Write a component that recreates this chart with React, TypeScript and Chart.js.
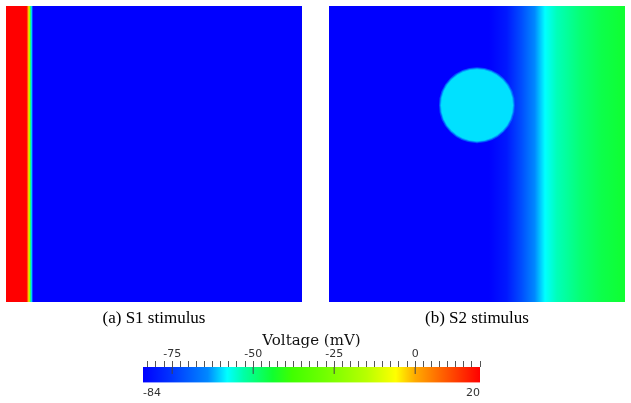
import React, { useEffect, useRef } from 'react';
import { Chart, registerables } from 'chart.js';

Chart.register(...registerables);

// ---- colour scale (Voltage, mV) ----
const V_MIN = -84;
const V_MAX = 20;
const CMAP_VALUES = [-84, -76, -64, -58, -53, -44, -38, -28, -15, -6, 0, 8, 20];
const CMAP_COLORS = ['#0000ff', '#0030ff', '#0088ff', '#00ffff', '#00ffa8', '#10ff30', '#40ff00', '#70ff00', '#b8ff00', '#ffff00', '#ffaa00', '#ff6400', '#ff0000'];
const MAJOR_TICKS = [-75, -50, -25, 0];
const END_LABELS = [-84, 20];

// ---- panel (a): S1 stimulus, voltage profile along x (0..1) ----
const S1_X = [0, 0.069, 0.074, 0.078, 0.081, 0.085, 0.088, 0.092, 1];
const S1_V = [20, 20, 5, -6, -38, -58, -66, -84, -84];

// ---- panel (b): S2 stimulus, voltage profile along x (0..1) ----
const S2_X = [0, 0.54, 0.6, 0.65, 0.695, 0.73, 0.77, 0.85, 0.92, 1];
const S2_V = [-84, -84, -80, -72, -64, -58, -54, -49, -46, -44];

// S2 circular stimulus region
const S2_CIRCLE_X = [0.5];
const S2_CIRCLE_Y = [0.665];
const S2_CIRCLE_R = [0.125];
const S2_CIRCLE_V = [-59.5];

const LABEL_A = '(a) S1 stimulus';
const LABEL_B = '(b) S2 stimulus';
const BAR_TITLE = 'Voltage (mV)';

function hexToRgb(h: string): number[] {
  return [parseInt(h.slice(1, 3), 16), parseInt(h.slice(3, 5), 16), parseInt(h.slice(5, 7), 16)];
}

function colorFor(v: number, alpha = 1): string {
  const vv = Math.max(V_MIN, Math.min(V_MAX, v));
  for (let i = 0; i < CMAP_VALUES.length - 1; i++) {
    const a = CMAP_VALUES[i];
    const b = CMAP_VALUES[i + 1];
    if (vv >= a && vv <= b) {
      const t = (vv - a) / (b - a);
      const ca = hexToRgb(CMAP_COLORS[i]);
      const cb = hexToRgb(CMAP_COLORS[i + 1]);
      const c = ca.map((x, k) => Math.round(x + (cb[k] - x) * t));
      return `rgba(${c[0]},${c[1]},${c[2]},${alpha})`;
    }
  }
  return CMAP_COLORS[CMAP_COLORS.length - 1];
}

function gradientFrom(chart: any, xs: number[], colors: string[]) {
  const { ctx, chartArea, scales } = chart;
  if (!chartArea) return 'rgba(0,0,0,0)';
  const sx = scales.x;
  const w = chartArea.right - chartArea.left;
  const g = ctx.createLinearGradient(chartArea.left, 0, chartArea.right, 0);
  xs.forEach((x, i) => {
    const p = (sx.getPixelForValue(x) - chartArea.left) / w;
    g.addColorStop(Math.min(1, Math.max(0, p)), colors[i]);
  });
  return g;
}

function panelConfig(xs: number[], vs: number[], label: string, withCircle: boolean): any {
  const datasets: any[] = [
    {
      type: 'line',
      data: [{ x: 0, y: 1 }, { x: 1, y: 1 }],
      fill: 'start',
      backgroundColor: (c: any) => gradientFrom(c.chart, xs, vs.map((v) => colorFor(v))),
      borderWidth: 0,
      pointRadius: 0,
      order: 2,
    },
  ];
  if (withCircle) {
    datasets.push({
      type: 'scatter',
      data: S2_CIRCLE_X.map((x, i) => ({ x, y: S2_CIRCLE_Y[i] })),
      pointRadius: (c: any) => {
        const s = c.chart.scales.x;
        const i = c.dataIndex ?? 0;
        return Math.abs(s.getPixelForValue(S2_CIRCLE_X[i] + S2_CIRCLE_R[i]) - s.getPixelForValue(S2_CIRCLE_X[i]));
      },
      pointBackgroundColor: S2_CIRCLE_V.map((v) => colorFor(v)),
      pointBorderColor: S2_CIRCLE_V.map((v) => colorFor(v - 5, 0.6)),
      pointBorderWidth: 2,
      order: 1,
    });
  }
  return {
    type: 'line',
    data: { datasets },
    options: {
      animation: false,
      responsive: false,
      maintainAspectRatio: false,
      events: [],
      layout: { padding: 0, autoPadding: false },
      plugins: { legend: { display: false }, tooltip: { enabled: false } },
      scales: {
        x: {
          type: 'linear',
          min: 0,
          max: 1,
          display: true,
          ticks: { display: false },
          grid: { display: false, drawTicks: false },
          border: { display: false },
          title: {
            display: true,
            text: label,
            color: '#000',
            font: { family: 'Liberation Serif', size: 17, lineHeight: 1.2 },
            padding: { top: 6.6, bottom: 0 },
          },
        },
        y: { type: 'linear', min: 0, max: 1, display: false },
      },
    },
  };
}

function colorbarConfig(): any {
  return {
    type: 'line',
    data: {
      datasets: [
        {
          type: 'line',
          data: [{ x: V_MIN, y: 1 }, { x: V_MAX, y: 1 }],
          fill: 'start',
          backgroundColor: (c: any) => gradientFrom(c.chart, CMAP_VALUES, CMAP_COLORS),
          borderWidth: 0,
          pointRadius: 0,
          order: 2,
          xAxisID: 'x',
        },
        {
          type: 'scatter',
          data: MAJOR_TICKS.map((v) => ({ x: v, y: 0.78 })),
          pointStyle: 'line',
          rotation: 90,
          radius: 3.5,
          borderColor: '#444',
          borderWidth: 1,
          order: 1,
          xAxisID: 'x',
        },
      ],
    },
    options: {
      animation: false,
      responsive: false,
      maintainAspectRatio: false,
      events: [],
      layout: { padding: 0, autoPadding: false },
      plugins: { legend: { display: false }, tooltip: { enabled: false } },
      scales: {
        x: {
          type: 'linear',
          position: 'top',
          min: V_MIN,
          max: V_MAX,
          ticks: {
            stepSize: 2.5,
            includeBounds: false,
            autoSkip: false,
            maxRotation: 0,
            padding: 1,
            color: '#333',
            font: { family: 'DejaVu Sans', size: 11, lineHeight: 1 },
            callback: (v: any) => (MAJOR_TICKS.includes(Number(v)) ? String(v) : ''),
          },
          grid: { drawOnChartArea: false, drawTicks: true, tickLength: 6, color: '#555', lineWidth: 1 },
          border: { display: false },
          title: {
            display: true,
            text: BAR_TITLE,
            color: '#111',
            font: { family: 'DejaVu Serif', size: 15, lineHeight: 1 },
            padding: { top: 0, bottom: 0 },
          },
        },
        x2: {
          type: 'linear',
          position: 'bottom',
          min: V_MIN,
          max: V_MAX,
          afterBuildTicks: (s: any) => {
            s.ticks = END_LABELS.map((v) => ({ value: v }));
          },
          ticks: {
            align: 'inner',
            autoSkip: false,
            maxRotation: 0,
            padding: 0,
            color: '#333',
            font: { family: 'DejaVu Sans', size: 11, lineHeight: 1.2 },
          },
          grid: { display: true, drawOnChartArea: false, drawTicks: true, tickLength: 4, color: 'rgba(0,0,0,0)' },
          border: { display: false },
        },
        y: { type: 'linear', min: 0, max: 1, display: false },
      },
    },
  };
}

function useChart(ref: React.RefObject<HTMLCanvasElement>, make: () => any) {
  useEffect(() => {
    if (!ref.current) return;
    const chart = new Chart(ref.current, make());
    return () => chart.destroy();
  }, []);
}

export default function App() {
  const aRef = useRef<HTMLCanvasElement>(null);
  const bRef = useRef<HTMLCanvasElement>(null);
  const cRef = useRef<HTMLCanvasElement>(null);
  useChart(aRef, () => panelConfig(S1_X, S1_V, LABEL_A, false));
  useChart(bRef, () => panelConfig(S2_X, S2_V, LABEL_B, true));
  useChart(cRef, () => colorbarConfig());
  return (
    <div style={{ position: 'fixed', left: 0, top: 0, width: 631, height: 403, background: '#fff', overflow: 'hidden' }}>
      <canvas ref={aRef} width={296} height={323} style={{ position: 'absolute', left: 6, top: 6, width: 296, height: 323 }} />
      <canvas ref={bRef} width={296} height={323} style={{ position: 'absolute', left: 329, top: 6, width: 296, height: 323 }} />
      <canvas ref={cRef} width={338} height={66} style={{ position: 'absolute', left: 143, top: 334, width: 338, height: 66 }} />
    </div>
  );
}
